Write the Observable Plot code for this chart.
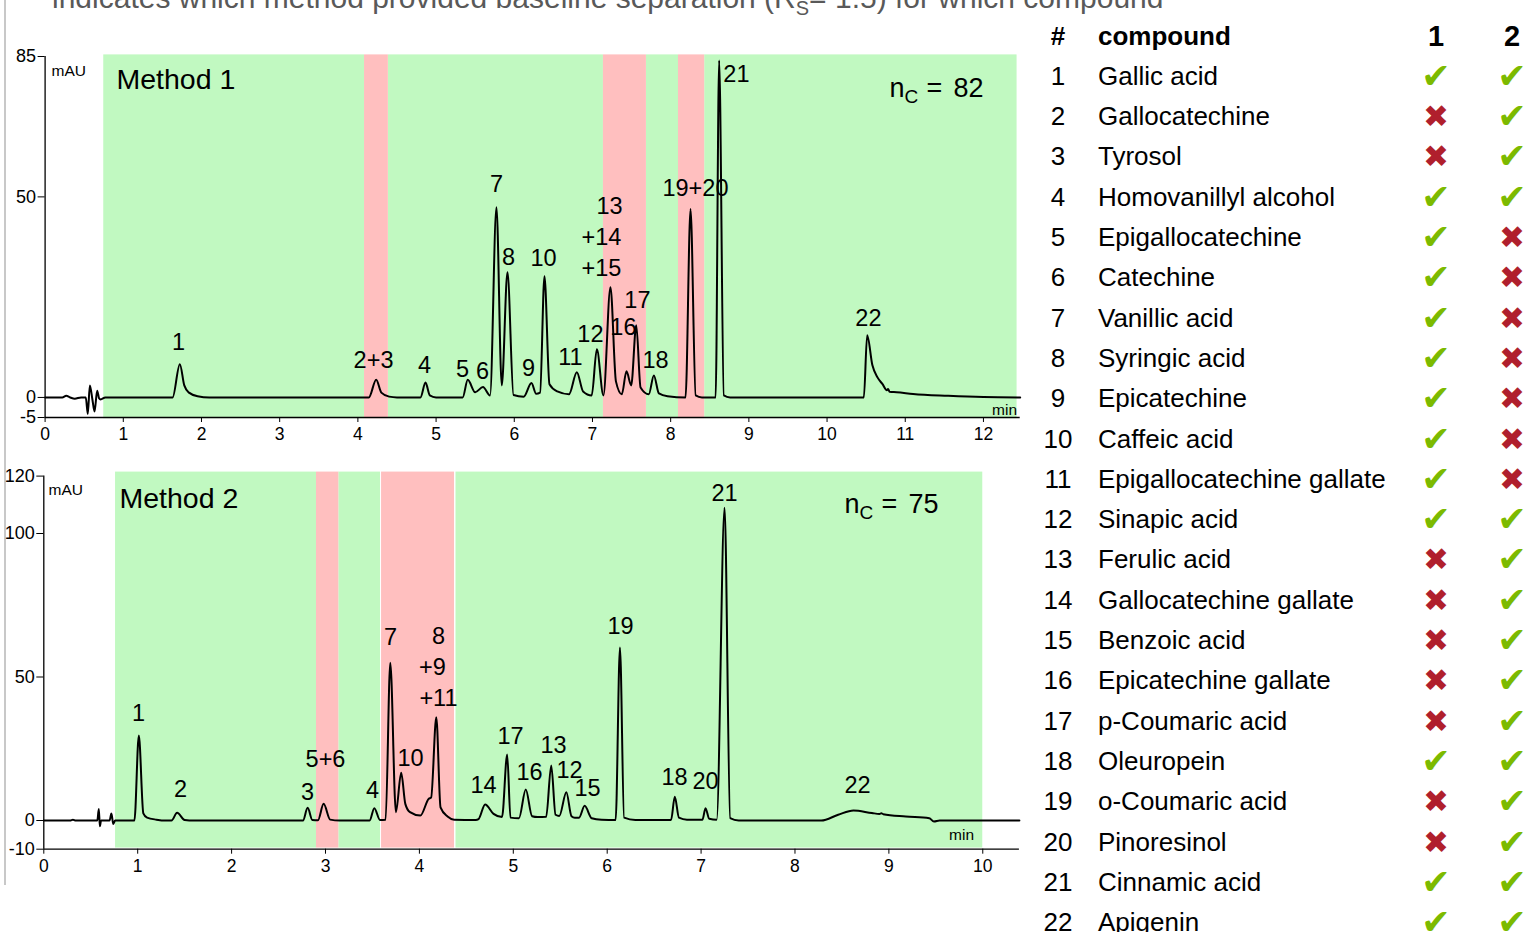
<!DOCTYPE html>
<html>
<head>
<meta charset="utf-8">
<script src="https://cdn.jsdelivr.net/npm/d3@7"></script>
<script src="https://cdn.jsdelivr.net/npm/@observablehq/plot@0.6"></script>
<style>
html,body{margin:0;padding:0;background:#fff;width:1530px;height:932px;overflow:hidden;font-family:"Liberation Sans",Arial,sans-serif;}
#title{position:absolute;left:52px;top:-17px;font-size:30px;line-height:30px;color:#595959;white-space:nowrap;}
#title sub{font-size:20px;}
#frame{position:absolute;left:4px;top:0;width:2px;height:885px;background:#c8c8c8;}
.chart{position:absolute;left:0;width:1030px;}
#c1{top:0;}
#c2{top:440px;}
.row{position:absolute;left:0;width:1530px;height:40.3px;line-height:40.3px;font-size:26px;color:#000;}
.row > span{position:absolute;top:0;white-space:nowrap;}
.num{left:1058px;transform:translateX(-50%);}
.name{left:1098px;}
.m1{left:1436px;transform:translateX(-50%);}
.m2{left:1512px;transform:translateX(-50%);}
.mark{font-family:"DejaVu Sans",sans-serif;}
.ok{color:#7cba00;font-size:35px;}
.bad{color:#b01f2d;font-size:31px;}
.head{font-weight:bold;}
.head .m1,.head .m2{font-size:29px;}
</style>
</head>
<body>
<div id="frame"></div>
<div id="title">indicates which method provided baseline separation (R<sub>S</sub>= 1.5) for which compound</div>
<div id="c1" class="chart"></div>
<div id="c2" class="chart"></div>
<div id="tbl"></div>
<script>
// ---------- Method 1 chromatogram (time in min, signal in mAU) ----------
const m1Time = [0,0.22,0.27,0.32,0.38,0.46,0.52,0.546,0.572,0.605,0.632,0.666,0.69,0.71,0.77,
  1.63,1.723,1.78,1.84,1.95,2.1,
  4.14,4.234,4.3,4.4,4.5,
  4.8,4.865,4.92,5.0,
  5.34,5.405,5.5,5.6,5.69,
  5.772,5.84,5.913,5.99,6.12,
  6.22,6.28,6.33,6.386,6.45,6.55,6.7,
  6.8,6.88,6.99,7.056,7.14,
  7.23,7.3,7.375,7.435,7.495,7.56,7.615,7.72,7.785,7.85,7.96,
  8.19,8.254,8.32,8.4,
  8.575,8.62,8.68,8.76,
  10.47,10.513,10.58,10.645,10.71,10.765,10.78,10.8,10.89,11.1,11.55,12.0,12.47];
const m1Signal = [0,0,0.4,0,-0.3,0,0,-4.1,3,-0.5,-3.5,1.7,-0.2,-0.5,0,
  0,8.3,3,1.2,0.3,0,
  0,4.4,1.2,0.2,0,
  0,3.7,0.5,0,
  0,4.4,1.3,2.6,0.5,
  47.4,3,31.2,0.6,0.2,
  3.6,0.9,1.2,30.2,3.3,1.5,0.8,
  6.3,1.5,0.5,12,0.5,
  27.5,4,0.8,6.5,3,18,2.5,0.8,5.5,1,0.3,
  0,47,0.5,0,
  0,84,0.5,0,
  0,15.5,8,5,3.3,1.8,2.1,1.4,1.3,0.85,0.4,0.1,0];

const m1LabelText   = ["1","2+3","4","5","6","7","8","9","10","11","12","13","+14","+15","16","17","18","19+20","21","22"];
const m1LabelTime   = [1.706,4.2,4.851,5.338,5.593,5.772,5.926,6.182,6.373,6.719,6.974,7.217,7.115,7.115,7.396,7.575,7.806,8.317,8.841,10.529];
const m1LabelSignal = [13.7,9.2,8.0,7.0,6.5,53.1,34.9,7.2,34.7,10.0,15.7,47.6,39.9,32.2,17.5,24.2,9.2,52.1,80.5,19.7];

const m1BandStart    = [0.75,4.085,4.39,7.14,7.69,8.10,8.435];
const m1BandEnd      = [4.085,4.39,7.14,7.69,8.10,8.435,12.43];
const m1BandResolved = [true,false,true,false,true,false,true];

const m1XTicks = [0,1,2,3,4,5,6,7,8,9,10,11,12];
const m1YTicks = [-5,0,50,85];
const m1Count = 82;

// ---------- Method 2 chromatogram ----------
const m2Time = [0,0.28,0.31,0.34,0.57,0.586,0.597,0.61,0.7,0.72,0.74,0.76,
  0.965,1.012,1.06,1.1,1.2,1.3,
  1.36,1.42,1.5,1.6,
  2.76,2.81,2.86,2.92,2.98,3.05,3.15,
  3.47,3.52,3.58,3.64,3.69,3.75,3.806,3.85,3.9,4.01,4.1,4.125,4.18,4.225,4.3,4.37,
  4.6,4.63,4.70,4.79,4.88,4.935,4.97,5.06,5.133,5.2,5.26,5.35,5.404,5.45,5.49,5.565,5.62,5.655,5.7,5.76,5.835,5.94,
  6.09,6.136,6.18,6.3,
  6.68,6.72,6.764,6.85,7.015,7.047,7.087,7.166,7.25,7.31,7.4,
  8.28,8.46,8.623,8.82,8.9,8.92,8.94,9.18,9.43,9.48,9.54,10.39];
const m2Signal = [0,0,0.3,0,0,4,-2,0,0,2.4,-1.2,0,
  0,29.6,2.5,1,0.3,0,
  0,2.7,0.2,0,
  0,4.4,0.2,0.1,5.8,0.3,0,
  0,4.3,0.2,0.3,55,2.9,16.6,5.8,2.9,1.7,7.6,8,36,4.6,1.4,0.3,
  0.2,0.5,5.6,2.3,1.2,23,1,0.8,10.8,1.5,1.2,1.3,19.2,2,1.6,9.8,1.5,1,1,5.1,0.8,0.3,
  0.2,60.3,1,0.2,
  0.2,8.3,1,0.3,0.3,4.3,0.6,0.3,109,0.8,0,
  0,2,3.5,2.6,2.3,2.5,2.2,1.4,0.8,-0.35,0,0];

const m2LabelText   = ["1","2","3","5+6","4","7","8","+9","+11","10","14","17","16","13","12","15","19","18","20","21","22"];
const m2LabelTime   = [1.009,1.456,2.808,3.0,3.5,3.692,4.203,4.139,4.203,3.905,4.683,4.97,5.172,5.428,5.598,5.79,6.142,6.717,7.047,7.249,8.666];
const m2LabelSignal = [37.3,10.8,9.8,21.3,10.5,63.8,64.1,53.3,42.5,21.6,12.2,29.3,16.7,26.1,17.4,11.1,67.6,15.0,13.6,113.9,12.2];

const m2BandStart    = [0.764,2.904,3.142,3.597,4.39];
const m2BandEnd      = [2.904,3.142,3.586,4.374,10.0];
const m2BandResolved = [true,false,true,false,true];

const m2XTicks = [0,1,2,3,4,5,6,7,8,9,10];
const m2YTicks = [-10,0,50,100,120];
const m2Count = 75;

// ---------- compound table ----------
const compounds = ["Gallic acid","Gallocatechine","Tyrosol","Homovanillyl alcohol","Epigallocatechine","Catechine",
  "Vanillic acid","Syringic acid","Epicatechine","Caffeic acid","Epigallocatechine gallate","Sinapic acid",
  "Ferulic acid","Gallocatechine gallate","Benzoic acid","Epicatechine gallate","p-Coumaric acid","Oleuropein",
  "o-Coumaric acid","Pinoresinol","Cinnamic acid","Apigenin"];
const method1Ok = [true,false,false,true,true,true,true,true,true,true,true,true,false,false,false,false,false,true,false,false,true,true];
const method2Ok = [true,true,true,true,false,false,false,false,false,false,false,true,true,true,true,true,true,true,true,true,true,true];

const GREEN = "#c1f9c1", RED = "#ffbfbf";
const FONT = '"Liberation Sans", Arial, sans-serif';

function chart(o) {
  const trace = o.time.map((t, i) => ({t, v: o.signal[i]}));
  const labels = o.labelText.map((s, i) => ({s, t: o.labelTime[i], v: o.labelSignal[i]}));
  const bands = o.bandStart.map((s, i) => ({s, e: o.bandEnd[i], ok: o.bandResolved[i]}));
  return Plot.plot({
    width: 1030, height: 460,
    marginLeft: o.ml, marginRight: o.mr, marginTop: o.mt, marginBottom: o.mb,
    x: {domain: o.xDomain},
    y: {domain: o.yDomain},
    style: {fontFamily: FONT, fontSize: "17px", color: "#000", background: "transparent", overflow: "visible"},
    marks: [
      Plot.rect(bands.filter(d => d.ok), {x1: "s", x2: "e", y1: o.bandY1, y2: o.bandY2, fill: GREEN}),
      Plot.rect(bands.filter(d => !d.ok), {x1: "s", x2: "e", y1: o.bandY1, y2: o.bandY2, fill: RED}),
      Plot.ruleX([0], {y1: o.yDomain[0], y2: o.yDomain[1], stroke: "#000", strokeWidth: 1.3}),
      Plot.ruleY([o.yDomain[0]], {x1: 0, x2: o.xDomain[1], stroke: "#000", strokeWidth: 1.3}),
      Plot.axisX({ticks: o.xTicks, tickSize: 5, tickPadding: 5, tickFormat: d => String(d), label: null, fontSize: 17.5}),
      Plot.axisY({ticks: o.yTicks, tickSize: 7, tickPadding: 2, tickFormat: d => String(d), label: null, fontSize: 18}),
      Plot.line(trace, {x: "t", y: "v", curve: "monotone-x", stroke: "#000", strokeWidth: 2}),
      Plot.text(labels, {x: "t", y: "v", text: "s", fontSize: 23.5}),
      Plot.text([o.title], {x: o.titlePos[0], y: o.titlePos[1], textAnchor: "start", fontSize: 28.5}),
      Plot.text(["mAU"], {x: o.mauPos[0], y: o.mauPos[1], textAnchor: "start", fontSize: 15.5}),
      Plot.text(["min"], {x: o.minPos[0], y: o.minPos[1], textAnchor: "end", fontSize: 15.5}),
      Plot.text(["n"], {x: o.nPos[0], y: o.nPos[1], textAnchor: "start", lineAnchor: "bottom", fontSize: 27}),
      Plot.text(["C"], {x: o.nPos[0], y: o.nPos[1], dx: 15, dy: 6, textAnchor: "start", lineAnchor: "bottom", fontSize: 19}),
      Plot.text(["="], {x: o.nPos[0], y: o.nPos[1], dx: 37, textAnchor: "start", lineAnchor: "bottom", fontSize: 27}),
      Plot.text([String(o.count)], {x: o.nPos[0], y: o.nPos[1], dx: 64, textAnchor: "start", lineAnchor: "bottom", fontSize: 27})
    ]
  });
}

document.getElementById("c1").append(chart({
  time: m1Time, signal: m1Signal,
  labelText: m1LabelText, labelTime: m1LabelTime, labelSignal: m1LabelSignal,
  bandStart: m1BandStart, bandEnd: m1BandEnd, bandResolved: m1BandResolved,
  xTicks: m1XTicks, yTicks: m1YTicks, count: m1Count,
  xDomain: [0, 12.47], yDomain: [-5, 85],
  ml: 44.6, mr: 10.3, mt: 56, mb: 43,
  bandY1: -5.3, bandY2: 85.4,
  title: "Method 1", titlePos: [0.913, 79.2],
  mauPos: [0.082, 81.5], minPos: [12.43, -3.2], nPos: [10.798, 74.8]
}));

document.getElementById("c2").append(chart({
  time: m2Time, signal: m2Signal,
  labelText: m2LabelText, labelTime: m2LabelTime, labelSignal: m2LabelSignal,
  bandStart: m2BandStart, bandEnd: m2BandEnd, bandResolved: m2BandResolved,
  xTicks: m2XTicks, yTicks: m2YTicks, count: m2Count,
  xDomain: [0, 10.39], yDomain: [-10, 120],
  ml: 43.3, mr: 11.1, mt: 35.6, mb: 51.3,
  bandY1: -9.6, bandY2: 121.4,
  title: "Method 2", titlePos: [0.806, 112.2],
  mauPos: [0.05, 115.3], minPos: [9.907, -5.2], nPos: [8.527, 107.3]
}));

// table
const tbl = document.getElementById("tbl");
function addRow(i, cells, cls) {
  const r = document.createElement("div");
  r.className = "row" + (cls ? " " + cls : "");
  r.style.top = (15.5 + i * 40.3) + "px";
  for (const [c, html] of cells) {
    const s = document.createElement("span");
    s.className = c;
    s.innerHTML = html;
    r.append(s);
  }
  tbl.append(r);
}
addRow(0, [["num", "#"], ["name", "compound"], ["m1", "1"], ["m2", "2"]], "head");
const mark = ok => ok ? '<span class="mark ok">\u2714</span>' : '<span class="mark bad">\u2716</span>';
compounds.forEach((c, i) => {
  addRow(i + 1, [["num", String(i + 1)], ["name", c], ["m1", mark(method1Ok[i])], ["m2", mark(method2Ok[i])]]);
});
</script>
</body>
</html>
